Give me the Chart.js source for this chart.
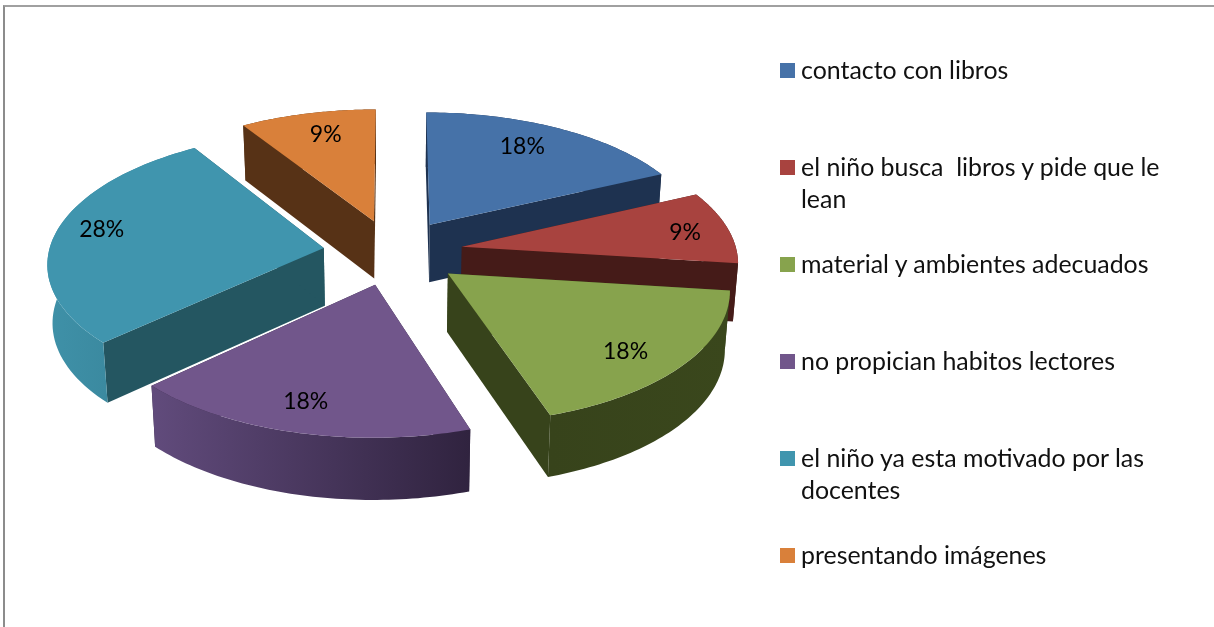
<!DOCTYPE html>
<html>
<head>
<meta charset="utf-8">
<script src="https://cdn.jsdelivr.net/npm/chart.js@4"></script>
<style>
	html, body { margin: 0; background: #fff; }
	#frame { position: absolute; left: 3px; top: 5px; width: 1211px; height: 622px; box-sizing: border-box; border-left: 2px solid #8c8c8c; border-top: 2px solid #a0a0a0; }
	#pie { position: absolute; left: 0; top: 0; }
	.legend-row { position: absolute; left: 801px; width: 375px; font: 24.9px/32px Lato, sans-serif; color: #111; white-space: pre-wrap; }
	.legend-box { position: absolute; left: -21px; top: 10px; width: 15px; height: 15px; }
</style>
</head>
<body>
<div id="frame"></div>
<canvas id="pie" width="1214" height="627"></canvas>
<div id="legend"></div>
<script>
const categories = [
	"contacto con libros",
	"el niño busca  libros y pide que le lean",
	"material y ambientes adecuados",
	"no propician habitos lectores",
	"el niño ya esta motivado por las docentes",
	"presentando imágenes"
];
const percentages = [18, 9, 18, 18, 28, 9];

const topColors = ["#4672a8", "#a8433f", "#87a34d", "#71568b", "#4095ae", "#d9803a"];
const sideColors = ["#1e3250", "#451b18", "#37431b", "#30233f", "#245661", "#573216"];
// gradiente da parede externa (esquerda -> direita)
const outerLeft = ["#1e3250", "#451b18", "#37431b", "#614b7c", "#3f91a8", "#573216"];
const outerRight = ["#1e3250", "#451b18", "#3a471c", "#30233f", "#357f94", "#573216"];

// ordem de pintura, de tras para frente
const drawOrder = [5, 0, 4, 1, 3, 2];
const legendTops = [53, 150, 247, 344, 441, 538];
const labelReach = [0.772, 0.835, 0.802, 0.812, 0.838, 0.781];
const labelTurn = [-3.1, 1.4, 3.4, 1.3, 2.5, 1.4];

// projecao em perspectiva do plano da pizza
const view = { cx: 393, cy: 252, rx: 275, ry: 129.5, tilt: 0.105, depth: 58, shrink: 0.985, explode: 70 };

function project(px, py) {
	const w = 1 - view.tilt * py;
	return {
		x: view.cx + view.rx * px / w,
		y: view.cy + view.ry * py / w,
		d: view.depth / Math.sqrt(w)
	};
}

function slicePoints(arc) {
	const mid = (arc.startAngle + arc.endAngle) / 2;
	const off = arc.options.offset / view.rx;
	const ax = Math.cos(mid) * off;
	const ay = Math.sin(mid) * off;
	const rim = [];
	const steps = 60;
	for (let i = 0; i <= steps; i++) {
		const a = arc.startAngle + (arc.endAngle - arc.startAngle) * i / steps;
		rim.push(project(ax + Math.cos(a), ay + Math.sin(a)));
	}
	return { apex: project(ax, ay), rim: rim, ax: ax, ay: ay, mid: mid };
}

function fillPoly(ctx, pts, fill) {
	ctx.beginPath();
	pts.forEach((p, i) => i ? ctx.lineTo(p.x, p.y) : ctx.moveTo(p.x, p.y));
	ctx.closePath();
	ctx.fillStyle = fill;
	ctx.fill();
}

function lower(p) {
	return { x: view.cx + (p.x - view.cx) * view.shrink, y: p.y + p.d };
}

const pie3d = {
	id: "pie3d",
	beforeDatasetsDraw(chart) {
		const ctx = chart.ctx;
		const arcs = chart.getDatasetMeta(0).data;
		drawOrder.forEach(i => {
			const s = slicePoints(arcs[i]);
			const first = s.rim[0];
			const last = s.rim[s.rim.length - 1];
			fillPoly(ctx, [s.apex, first, lower(first), lower(s.apex)], sideColors[i]);
			fillPoly(ctx, [s.apex, last, lower(last), lower(s.apex)], sideColors[i]);

			const xs = s.rim.map(p => p.x);
			const grad = ctx.createLinearGradient(Math.min(...xs), 0, Math.max(...xs), 0);
			grad.addColorStop(0, outerLeft[i]);
			grad.addColorStop(1, outerRight[i]);
			fillPoly(ctx, s.rim.concat(s.rim.slice().reverse().map(lower)), grad);

			fillPoly(ctx, [s.apex].concat(s.rim), topColors[i]);
		});
		return false;
	},
	afterDraw(chart) {
		const ctx = chart.ctx;
		const arcs = chart.getDatasetMeta(0).data;
		ctx.font = "23px Lato, sans-serif";
		ctx.fillStyle = "#000";
		ctx.textAlign = "center";
		ctx.textBaseline = "middle";
		arcs.forEach((arc, i) => {
			const s = slicePoints(arc);
			const a = s.mid + labelTurn[i] * Math.PI / 180;
			const p = project(s.ax + Math.cos(a) * labelReach[i], s.ay + Math.sin(a) * labelReach[i]);
			ctx.fillText(percentages[i] + "%", p.x, p.y);
		});
	}
};

new Chart(document.getElementById("pie"), {
	type: "pie",
	data: {
		labels: categories,
		datasets: [{
			data: percentages,
			backgroundColor: topColors,
			offset: view.explode,
			borderWidth: 0
		}]
	},
	options: {
		responsive: false,
		animation: false,
		plugins: {
			legend: { display: false },
			tooltip: { enabled: false }
		}
	},
	plugins: [pie3d]
});

const legend = document.getElementById("legend");
categories.forEach((name, i) => {
	const row = document.createElement("div");
	row.className = "legend-row";
	row.style.top = legendTops[i] + "px";
	row.textContent = name;
	const box = document.createElement("span");
	box.className = "legend-box";
	box.style.background = topColors[i];
	row.appendChild(box);
	legend.appendChild(row);
});
</script>
</body>
</html>
